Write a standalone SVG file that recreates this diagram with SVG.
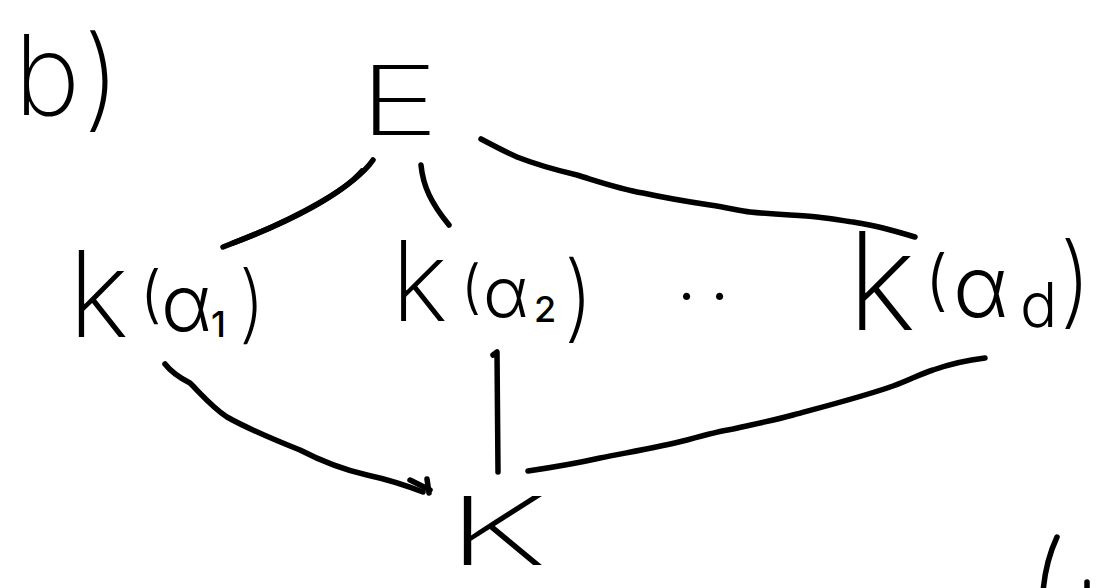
<svg xmlns="http://www.w3.org/2000/svg" width="1114" height="588" viewBox="0 0 1114 588">
  <style>
    .hw { font-family: Inter, "Liberation Sans", sans-serif; font-weight: 200; fill: #000; }
    .mid { font-weight: 300; }
    .sub { font-weight: 500; }
    .ink { fill: none; stroke: #000; stroke-width: 5.5; stroke-linecap: round; stroke-linejoin: round; }
  </style>
  <rect width="1114" height="588" fill="#fff"/>

  <!-- part label -->
  <g id="label-b">
    <text class="hw"><tspan x="14" y="115" font-size="112">b</tspan><tspan x="83" y="117" font-size="112">)</tspan></text>
  </g>

  <!-- field lattice nodes -->
  <g id="node-E">
    <text class="hw" x="359" y="135" font-size="96" textLength="80" lengthAdjust="spacingAndGlyphs">E</text>
  </g>

  <g id="node-k1">
    <text class="hw"><tspan x="68" y="337" font-size="120">k</tspan><tspan class="mid" x="140" y="316" font-size="62">(</tspan><tspan class="mid" x="161" y="331" font-size="78">α</tspan><tspan class="sub" x="211" y="337" font-size="36">1</tspan><tspan x="238" y="333" font-size="85">)</tspan></text>
  </g>

  <g id="node-k2">
    <text class="hw"><tspan x="391" y="321" font-size="112">k</tspan><tspan class="mid" x="461" y="307" font-size="58">(</tspan><tspan class="mid" x="483" y="317" font-size="70">α</tspan><tspan class="sub" x="534" y="322" font-size="36">2</tspan><tspan x="563" y="330" font-size="95">)</tspan></text>
  </g>

  <g id="ellipsis">
    <text class="hw sub" x="679 712" y="300" font-size="50">..</text>
  </g>

  <g id="node-kd">
    <text class="hw"><tspan x="847" y="330" font-size="136">k</tspan><tspan class="mid" x="925" y="303" font-size="66">(</tspan><tspan class="mid" x="953" y="317" font-size="85">α</tspan><tspan class="mid" x="1020" y="327" font-size="62">d</tspan><tspan x="1059" y="315" font-size="100">)</tspan></text>
  </g>

  <g id="node-K">
    <text class="hw" x="447" y="565" font-size="95" textLength="100" lengthAdjust="spacingAndGlyphs">K</text>
  </g>

  <!-- inclusion lines -->
  <g id="connectors">
    <path class="ink" d="M373,160 C355,186 300,218 223,247"/>
    <path class="ink" d="M362,171 C342,194 292,221 233,243"/>
    <path class="ink" d="M421,165 C423,186 431,203 449,225"/>
    <path class="ink" d="M481,139 C500,149 510,154 517,157 C540,166 560,171 577,175 C600,182 620,189 643,193 C670,199 690,202 710,205 C730,208 740,211 750,212 C780,215 800,215 817,217 C835,219 845,221 853,222 C865,224 875,226 883,228 C895,231 905,234 915,237"/>
    <path class="ink" d="M165,364 C172,373 180,378 190,383 C202,395 212,407 227,417 C250,430 275,440 300,450 C325,463 345,470 367,475 C390,480 405,485 423,492"/>
    <path class="ink" d="M410,480 L430,490 M427,479 L429,493"/>
    <path class="ink" d="M493,355 L497,352 L498,472"/>
    <path class="ink" d="M528,471 C555,467 578,463 600,458 C630,452 660,447 687,440 C705,435 720,431 733,429 C755,424 775,420 793,415 C830,405 865,396 893,386 C910,380 920,374 933,370 C950,364 968,360 985,358"/>
  </g>

  <!-- stroke fragment at the lower right edge -->
  <g id="fragment">
    <path class="ink" d="M1057,537 C1050,552 1045,568 1043,592"/>
    <path class="ink" d="M1087,582 L1087,592"/>
  </g>
</svg>
